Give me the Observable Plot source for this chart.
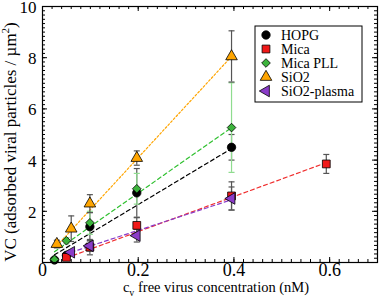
<!DOCTYPE html>
<html><head><meta charset="utf-8">
<script src="https://cdn.jsdelivr.net/npm/d3@7"></script>
<script src="https://cdn.jsdelivr.net/npm/@observablehq/plot@0.6"></script>
<style>body{margin:0;background:#fff}</style>
</head><body><div id="chart"></div>
<script>
// ---- data ----
const seriesNames = ["HOPG", "Mica", "Mica PLL", "SiO2", "SiO2-plasma"];

const hopgX = [0.025, 0.05, 0.099, 0.197, 0.395];
const hopgY = [0.1, 0.28, 1.4, 2.72, 4.5];
const hopgErr = [0.05, 0.1, 0.55, 0.95, 0.5];

const micaX = [0.05, 0.099, 0.197, 0.395, 0.593];
const micaY = [0.2, 0.6, 1.45, 2.6, 3.85];
const micaErr = [0.1, 0.3, 0.3, 0.55, 0.37];

const pllX = [0.025, 0.05, 0.099, 0.197, 0.395];
const pllY = [0.12, 0.85, 1.55, 2.88, 5.27];
const pllErr = [0.05, 0.12, 0.45, 0.6, 1.75];

const sioX = [0.03, 0.06, 0.099, 0.197, 0.395];
const sioY = [0.72, 1.32, 2.3, 4.08, 8.05];
const sioErr = [0.15, 0.5, 0.35, 0.28, 1.0];

const plasmaX = [0.06, 0.099, 0.197, 0.395];
const plasmaY = [0.4, 0.65, 1.05, 2.5];
const plasmaErr = [0.08, 0.2, 0.25, 0.45];

// fitted lines (end points)
const hopgFitX = [0.025, 0.395], hopgFitY = [0.3, 4.45];
const micaFitX = [0.05, 0.593], micaFitY = [0.18, 3.9];
const pllFitX = [0.025, 0.395], pllFitY = [0.42, 5.27];
const sioFitX = [0.03, 0.395], sioFitY = [0.65, 8.05];
const plasmaFitX = [0.06, 0.395], plasmaFitY = [0.4, 2.45];

// ticks
const xMajor = [0, 0.2, 0.4, 0.6];
const xMinor = d3.range(0, 0.7001, 0.02);
const yMajor = [0, 2, 4, 6, 8, 10];
const yLabels = [2, 4, 6, 8, 10];
const yMinor = d3.range(0, 10.001, 1 / 6);

// ---- styles ----
const FONT = "'Liberation Serif', 'Times New Roman', serif";
const fills = {"HOPG": "#000000", "Mica": "#f01818", "Mica PLL": "#3cb43c", "SiO2": "#ffa500", "SiO2-plasma": "#8a3cc8"};
const lineCols = {"HOPG": "#000000", "Mica": "#f03030", "Mica PLL": "#30c030", "SiO2": "#ffa500", "SiO2-plasma": "#8a3cc8"};
const errCols = {"HOPG": "#555", "Mica": "#555", "Mica PLL": "#8fdc8f", "SiO2": "#555", "SiO2-plasma": "#555"};

const leftTri = {draw(ctx, size) {
  const k = Math.sqrt(size / (3 * Math.sqrt(3)));
  ctx.moveTo(-2 * k, 0); ctx.lineTo(k, -Math.sqrt(3) * k); ctx.lineTo(k, Math.sqrt(3) * k); ctx.closePath();
}};
const capSym = {draw(ctx, size) { const w = Math.sqrt(size); ctx.moveTo(-w / 2, 0); ctx.lineTo(w / 2, 0); }};
const symbols = {"HOPG": "circle", "Mica": "square", "Mica PLL": "diamond2", "SiO2": "triangle", "SiO2-plasma": leftTri};
const radii = {"HOPG": 4.2, "Mica": 4.4, "Mica PLL": 3.9, "SiO2": 4.3, "SiO2-plasma": 4.3};

const raw = [
  ["HOPG", hopgX, hopgY, hopgErr],
  ["Mica", micaX, micaY, micaErr],
  ["Mica PLL", pllX, pllY, pllErr],
  ["SiO2", sioX, sioY, sioErr],
  ["SiO2-plasma", plasmaX, plasmaY, plasmaErr]
];
const rows = raw.flatMap(([s, xs, ys, es]) => xs.map((x, i) => ({s, x, y: ys[i], e: es[i]})));
const fits = [
  ["HOPG", hopgFitX, hopgFitY], ["Mica", micaFitX, micaFitY], ["Mica PLL", pllFitX, pllFitY],
  ["SiO2", sioFitX, sioFitY], ["SiO2-plasma", plasmaFitX, plasmaFitY]
];

const W = 380, H = 298, mL = 42, mR = 3, mT = 6, mB = 36;
const pw = W - mL - mR, ph = H - mT - mB;

const marks = [];
// ticks (inward, mirrored)
marks.push(Plot.tickX(xMajor, {x: d => d, insetTop: ph - 5, stroke: "#000"}));
marks.push(Plot.tickX(xMajor, {x: d => d, insetBottom: ph - 5, stroke: "#000"}));
marks.push(Plot.tickX(xMinor, {x: d => d, insetTop: ph - 3, stroke: "#000"}));
marks.push(Plot.tickX(xMinor, {x: d => d, insetBottom: ph - 3, stroke: "#000"}));
marks.push(Plot.tickY(yMajor, {y: d => d, insetRight: pw - 5, stroke: "#000"}));
marks.push(Plot.tickY(yMajor, {y: d => d, insetLeft: pw - 5, stroke: "#000"}));
marks.push(Plot.tickY(yMinor, {y: d => d, insetRight: pw - 3, stroke: "#000"}));
marks.push(Plot.tickY(yMinor, {y: d => d, insetLeft: pw - 3, stroke: "#000"}));
// fit lines
for (const [s, xs, ys] of fits) {
  marks.push(Plot.line(xs.map((x, i) => ({x, y: ys[i]})), {
    x: "x", y: "y", stroke: lineCols[s], strokeWidth: 1.2,
    strokeDasharray: s === "SiO2" ? "2,2" : "4,3"
  }));
}
// error bars
for (const s of seriesNames) {
  const d = rows.filter(r => r.s === s);
  marks.push(Plot.ruleX(d, {x: "x", y1: r => r.y - r.e, y2: r => r.y + r.e, stroke: errCols[s], strokeWidth: 1.2}));
  marks.push(Plot.dot(d, {x: "x", y: r => r.y + r.e, symbol: capSym, r: 3.4, stroke: errCols[s], strokeWidth: 1.2, fill: "none"}));
  marks.push(Plot.dot(d, {x: "x", y: r => r.y - r.e, symbol: capSym, r: 3.4, stroke: errCols[s], strokeWidth: 1.2, fill: "none"}));
}
// markers
for (const s of seriesNames) {
  const d = rows.filter(r => r.s === s);
  marks.push(Plot.dot(d, {x: "x", y: "y", symbol: symbols[s], r: radii[s], fill: fills[s], stroke: "#000", strokeWidth: 0.8}));
}
marks.push(Plot.frame({stroke: "#000", strokeWidth: 1.2}));
marks.push(Plot.axisX({ticks: xMajor, tickSize: 0, tickPadding: 1, fontSize: 18, fontFamily: FONT, label: null, tickFormat: d => String(d)}));
marks.push(Plot.axisY({ticks: yLabels, tickSize: 0, tickPadding: 6, fontSize: 17, fontFamily: FONT, label: null, dy: 1}));

const svg = Plot.plot({
  width: W, height: H, marginLeft: mL, marginRight: mR, marginTop: mT, marginBottom: mB,
  x: {domain: [0, 0.7]}, y: {domain: [0, 10]},
  style: {fontFamily: FONT, background: "#fff", color: "#000"},
  marks
});
const g = d3.select(svg);

// axis titles
const yl = g.append("text").attr("transform", `translate(16,${mT + ph / 2 + 8}) rotate(-90)`)
  .attr("text-anchor", "middle").attr("font-family", FONT).attr("font-size", 17).attr("fill", "#000");
yl.append("tspan").text("VC (adsorbed viral particles / µm");
yl.append("tspan").attr("dy", -7).attr("font-size", 11).text("2");
yl.append("tspan").attr("dy", 7).text(")");

const xl = g.append("text").attr("x", 216).attr("y", H - 6)
  .attr("text-anchor", "middle").attr("font-family", FONT).attr("font-size", 14.5).attr("fill", "#000");
xl.append("tspan").text("c");
xl.append("tspan").attr("dy", 4).attr("font-size", 10).text("v");
xl.append("tspan").attr("dy", -4).text(" free virus concentration (nM)");

// legend
const lg = g.append("g");
lg.append("rect").attr("x", 255).attr("y", 26).attr("width", 107).attr("height", 76)
  .attr("fill", "#fff").attr("stroke", "#000").attr("stroke-width", 1);
const symMap = {"HOPG": d3.symbolCircle, "Mica": d3.symbolSquare, "Mica PLL": d3.symbolDiamond2, "SiO2": d3.symbolTriangle, "SiO2-plasma": leftTri};
seriesNames.forEach((s, i) => {
  const cy = 35 + i * 14;
  const r = radii[s];
  lg.append("path").attr("transform", `translate(266,${cy})`)
    .attr("d", d3.symbol(symMap[s], Math.PI * r * r)())
    .attr("fill", fills[s]).attr("stroke", "#000").attr("stroke-width", 0.8);
  lg.append("text").attr("x", 281).attr("y", cy + 5).attr("text-anchor", "start")
    .attr("font-family", FONT).attr("font-size", 14).attr("fill", "#000").text(s);
});

document.getElementById("chart").appendChild(svg);
</script></body></html>
